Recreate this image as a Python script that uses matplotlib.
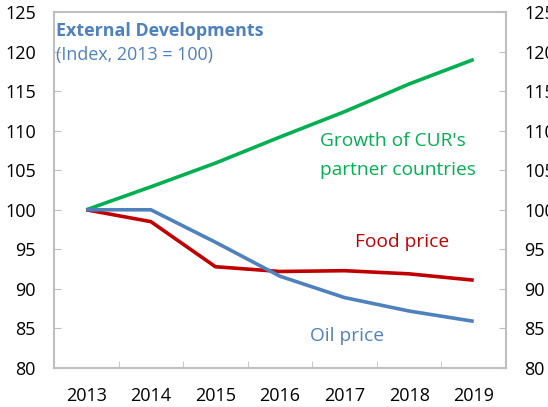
import matplotlib.pyplot as plt

plt.rcParams['font.family'] = ['Open Sans', 'DejaVu Sans']

years = ["2013", "2014", "2015", "2016", "2017", "2018", "2019"]
growth_partners = [100, 102.9, 105.9, 109.2, 112.4, 115.9, 119.0]
oil_price = [100, 100, 95.9, 91.6, 88.9, 87.2, 85.9]
food_price = [100, 98.5, 92.8, 92.2, 92.3, 91.9, 91.1]

green = '#00B050'
red = '#C00000'
blue = '#4F81BD'
spine_col = '#BFBFBF'

fig = plt.figure(figsize=(5.48, 4.07), dpi=100)
ax = fig.add_axes([54 / 548, 1 - 368 / 407, 452 / 548, 356 / 407])

x = range(len(years))
ax.plot(x, growth_partners, color=green, lw=2.6, solid_capstyle='butt')
ax.plot(x, food_price, color=red, lw=2.6, solid_capstyle='butt')
ax.plot(x, oil_price, color=blue, lw=2.6, solid_capstyle='butt')

ax.set_xlim(-0.5, len(years) - 0.5)
ax.set_ylim(80, 125)
ax.set_yticks(range(80, 126, 5))
ax.set_xticks(x)
ax.set_xticklabels(years)
ax.set_xticks([i + 0.5 for i in range(len(years) - 1)], minor=True)
ax.tick_params(axis='x', which='major', length=0, pad=14, labelsize=13)
ax.tick_params(axis='x', which='minor', length=5, direction='in', color=spine_col)
ax.tick_params(axis='y', direction='in', length=5, color=spine_col, labelsize=13,
               pad=13, right=True, labelright=True)
for s in ax.spines.values():
    s.set_color(spine_col)
    s.set_linewidth(1.5)

ax.text(0.005, 0.948, "External Developments", transform=ax.transAxes, color=blue,
        fontsize=12.9, fontweight='bold', va='center', ha='left')
ax.text(0.005, 0.879, "(Index, 2013 = 100)", transform=ax.transAxes, color=blue,
        fontsize=12.9, va='center', ha='left')

ax.text(3.62, 108.06, "Growth of CUR's", color=green, fontsize=13.8,
        ha='left', va='baseline')
ax.text(3.62, 104.4, "partner countries", color=green, fontsize=13.8,
        ha='left', va='baseline')
ax.text(4.16, 95.3, "Food price", color=red, fontsize=13.8, ha='left', va='baseline')
ax.text(3.47, 83.4, "Oil price", color=blue, fontsize=13.8, ha='left', va='baseline')

fig.savefig("out.png", dpi=100)
